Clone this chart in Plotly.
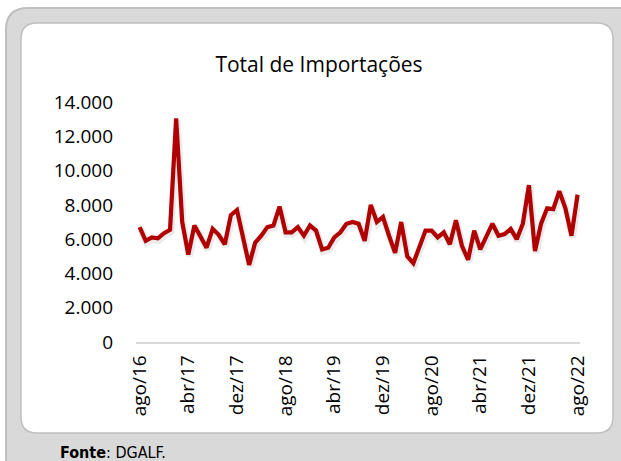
import plotly.graph_objects as go

# ---- data (monthly, ago/2016 .. ago/2022) ----
months_pt = ["jan", "fev", "mar", "abr", "mai", "jun", "jul", "ago", "set", "out", "nov", "dez"]
start_year, start_month = 2016, 8
values = [
    6700, 5900, 6100, 6050, 6350, 6550, 13050, 7000, 5100, 6800,
    6150, 5500, 6600, 6250, 5700, 7400, 7700, 6000, 4500, 5800,
    6200, 6700, 6800, 7900, 6400, 6400, 6700, 6200, 6800, 6500,
    5400, 5500, 6100, 6400, 6900, 7000, 6900, 5900, 8000, 7000,
    7300, 6200, 5200, 7000, 5000, 4600, 5600, 6500, 6500, 6100,
    6400, 5700, 7100, 5600, 4800, 6500, 5400, 6200, 6900, 6200,
    6300, 6600, 6000, 6900, 9150, 5300, 6900, 7800, 7750, 8800,
    7800, 6200, 8600,
]
labels = []
for i in range(len(values)):
    m = (start_month - 1 + i) % 12
    y = start_year + (start_month - 1 + i) // 12
    labels.append(f"{months_pt[m]}/{str(y)[2:]}")
x_idx = list(range(len(values)))
tick_idx = x_idx[::8]
tick_text = [labels[i] for i in tick_idx]
y_ticks = [0, 2000, 4000, 6000, 8000, 10000, 12000, 14000]

title_text = "Total de Importações"
source_bold = "Fonte"
source_rest = ": DGALF."

# ---- geometry helpers (pixel -> paper) ----
W, H = 621, 461
L, R, T, B = 136, 41, 102, 119
PW, PH = W - L - R, H - T - B


def px(x):
    return (x - L) / PW


def py(y):
    return (H - B - y) / PH


def rounded(x0, y0, x1, y1, r):
    rx, ry = r / PW, r / PH
    X0, X1 = px(x0), px(x1)
    Y0, Y1 = py(y0), py(y1)  # Y0 top (larger), Y1 bottom
    return (f"M {X0+rx},{Y0} L {X1-rx},{Y0} Q {X1},{Y0} {X1},{Y0-ry} "
            f"L {X1},{Y1+ry} Q {X1},{Y1} {X1-rx},{Y1} "
            f"L {X0+rx},{Y1} Q {X0},{Y1} {X0},{Y1+ry} "
            f"L {X0},{Y0-ry} Q {X0},{Y0} {X0+rx},{Y0} Z")


fig = go.Figure()

# soft shadow (same data, slightly offset axes)
fig.add_trace(go.Scatter(
    x=x_idx, y=values, mode="lines", xaxis="x2", yaxis="y2",
    line=dict(color="rgba(0,0,0,0.08)", width=7), hoverinfo="skip", showlegend=False,
))
fig.add_trace(go.Scatter(
    x=x_idx, y=values, mode="lines",
    line=dict(color="#c00000", width=4.2), showlegend=False,
))

xr = [-0.6, 72.4]
yr = [0, 14000]
shift_x = 1 / (PW / (xr[1] - xr[0]))
shift_y = 2 / (PH / (yr[1] - yr[0]))

font_main = "Open Sans, Noto Sans, sans-serif"

fig.update_layout(
    width=W, height=H,
    margin=dict(l=L, r=R, t=T, b=B, autoexpand=False),
    paper_bgcolor="white", plot_bgcolor="rgba(0,0,0,0)",
    separators=",.",
    title=dict(text=title_text, xref="container", yref="container",
               x=319 / W, y=1 - 65 / H, xanchor="center", yanchor="middle",
               font=dict(family=font_main, size=21, color="#000000")),
    xaxis=dict(range=xr, tickmode="array", tickvals=tick_idx, ticktext=tick_text,
               tickangle=-90, showgrid=False, zeroline=False, showline=True,
               linecolor="#d9d9d9", linewidth=1.5, ticks="",
               tickfont=dict(family=font_main, size=19, color="#000000"),
               ticklabelstandoff=4),
    yaxis=dict(range=yr, tickmode="array", tickvals=y_ticks, tickformat=",d",
               showgrid=False, zeroline=False, showline=False, ticks="",
               tickfont=dict(family=font_main, size=19, color="#000000"),
               ticklabelstandoff=22),
    xaxis2=dict(range=[xr[0] - shift_x, xr[1] - shift_x], overlaying="x",
                visible=False),
    yaxis2=dict(range=[yr[0] + shift_y, yr[1] + shift_y], overlaying="y",
                visible=False),
    shapes=[
        dict(type="path", xref="paper", yref="paper", layer="below",
             path=rounded(6, 8, 640, 480, 22),
             fillcolor="#d9d9d9", line=dict(color="#bfbfbf", width=2)),
        dict(type="path", xref="paper", yref="paper", layer="below",
             path=rounded(21, 23, 613, 433, 16),
             fillcolor="#ffffff", line=dict(color="#bfbfbf", width=1.5)),
    ],
    annotations=[
        dict(xref="paper", yref="paper", x=px(58), y=py(452),
             xanchor="left", yanchor="middle", showarrow=False,
             text=f"<b>{source_bold}</b>{source_rest}",
             font=dict(family="DejaVu Sans Condensed, Liberation Sans Narrow, sans-serif",
                       size=16, color="#000000")),
    ],
)

fig.write_html(
    "out.html",
    config={"displayModeBar": False},
    post_script="document.body.style.margin='0';document.body.style.overflow='hidden';",
)
